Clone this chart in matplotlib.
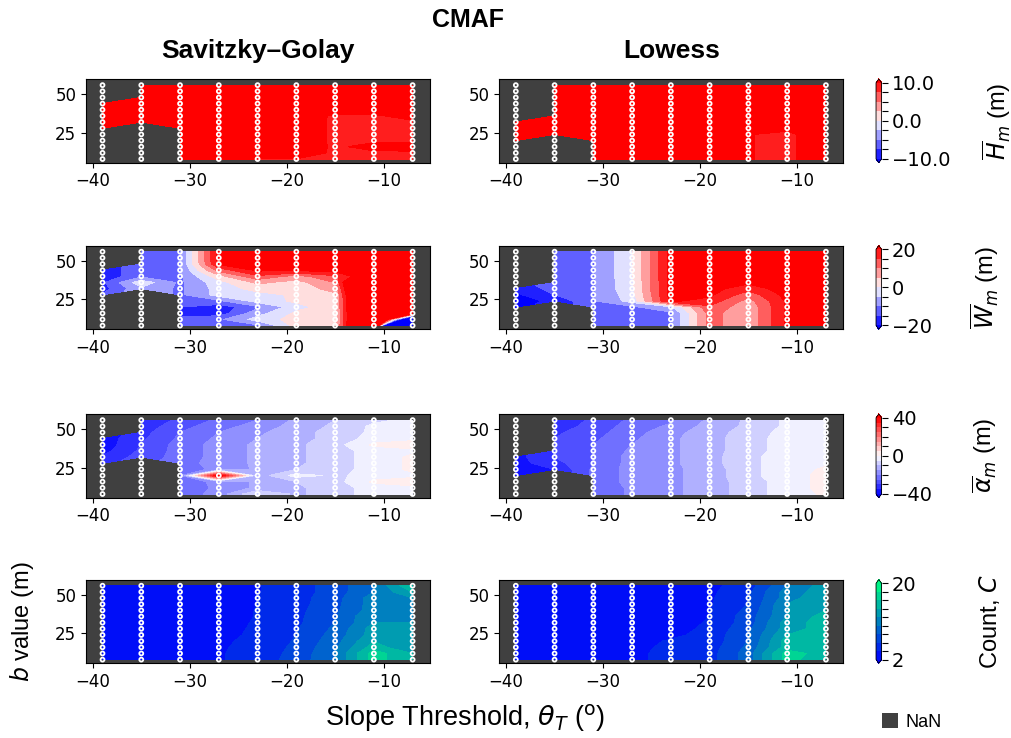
import numpy as np
import matplotlib.pyplot as plt
from matplotlib.patches import Patch

nan = np.nan

# grid of the sweep: slope threshold (deg) and b value (m), top row first
slope = [-39, -35, -31, -27, -23, -19, -15, -11, -7]
b_value = [56, 52, 48, 44, 40, 36, 32, 28, 24, 20, 16, 12, 8]

# mean height H_m (m)
h_sg = [
    [nan, 12, 12, 12, 12, 12, 12, 12, 12],
    [nan, 12, 12, 12, 12, 12, 12, 12, 12],
    [nan, 12, 12, 12, 12, 12, 12, 12, 12],
    [12, 12, 12, 12, 12, 12, 12, 12, 12],
    [12, 12, 12, 12, 12, 12, 12, 12, 12],
    [12, 12, 12, 12, 12, 12, 9.5, 9.6, 11],
    [12, 12, 12, 12, 12, 12, 9.4, 9.5, 9.6],
    [12, nan, 12, 12, 12, 12, 9.4, 9.5, 9.6],
    [nan, nan, 12, 12, 12, 12, 9.4, 9.5, 9.6],
    [nan, nan, 12, 12, 12, 12, 9.4, 9.5, 9.6],
    [nan, nan, 12, 12, 12, 12, 9.5, 11, 11],
    [nan, nan, 12, 12, 12, 12, 9.4, 9.5, 9.6],
    [nan, nan, 12, 12, 9.9, 9.9, 9.4, 9.5, 9.6],
]
h_lowess = [
    [nan, 12, 12, 12, 12, 12, 12, 12, 12],
    [nan, 12, 12, 12, 12, 12, 12, 12, 12],
    [nan, 12, 12, 12, 12, 12, 12, 12, 12],
    [nan, 12, 12, 12, 12, 12, 12, 12, 12],
    [nan, 12, 12, 12, 12, 12, 12, 12, 12],
    [nan, 12, 12, 12, 12, 12, 12, 12, 12],
    [12, 12, 12, 12, 12, 12, 12, 12, 12],
    [12, 12, 12, 12, 12, 12, 12, 11, 12],
    [12, 12, 12, 12, 12, 12, 10.2, 9, 13],
    [12, nan, 12, 12, 12, 12, 10.2, 9, 13],
    [nan, nan, 12, 12, 12, 12, 10.2, 9, 13],
    [nan, nan, 12, 12, 12, 12, 10.2, 9, 13],
    [nan, nan, 12, 12, 12, 12, 10.2, 9, 13],
]

# mean width W_m (m)
w_sg = [
    [nan, -11, -10.5, 22, 24, 25, 25, 28, 28],
    [nan, -11, -10.5, 22, 24, 25, 25, 28, 28],
    [nan, -11, -10.5, 21, 23, 24, 24, 28, 28],
    [-19, -11, -10.5, 12, 21, 21, 22, 28, 28],
    [-19, -11, -11, 3, 14, 8, 14, 28, 28],
    [-16, -2, -11, -2, 6, 3, 10, 60, 28],
    [-17, -6, -11, -3, 2, 2, 7, 60, 28],
    [-15, nan, -11, -3, -2, 1, 4, 60, 28],
    [nan, nan, -12, -11, -3, 1, 3, 60, 28],
    [nan, nan, -15, -18, -11, -2, 3, 60, 28],
    [nan, nan, -18, -18, -7, 1, 2, 60, 25],
    [nan, nan, -12, -11, -3, 2, 2, 60, -60],
    [nan, nan, -11, -11, -11, 2, 3, 60, -300],
]
w_lowess = [
    [nan, -11, -10.5, -0.5, 22, 24, 24, 25, 25],
    [nan, -11, -10.5, -0.5, 22, 24, 24, 25, 25],
    [nan, -11, -10.5, -0.5, 22, 24, 24, 25, 25],
    [nan, -11, -10.5, -0.5, 22, 24, 24, 25, 25],
    [nan, -11, -10.5, -0.5, 22, 24, 23, 25, 25],
    [nan, -11, -10.5, -1, 22, 24, 21, 25, 25],
    [-19, -13, -10.5, -1, 22, 22, 17, 23, 25],
    [-21, -15, -10.5, -2, 22, 21, 12, 22, 25],
    [-22, -19, -10.5, -3, 21, 18, 8, 21, 25],
    [-21, nan, -11, -11, -6, 14, 6, 21, 25],
    [nan, nan, -11, -11, -11, 12, 6, 21, 25],
    [nan, nan, -11, -11, -11, 12, 6, 21, 25],
    [nan, nan, -11, -11, -11, 12, 6, 21, 25],
]

# mean alpha_m (m)
a_sg = [
    [nan, -34, -29, -24, -20, -14, -10, -6, -4],
    [nan, -33, -27, -22, -18, -13, -9, -4, -3],
    [nan, -32, -25, -20, -16, -12, -8, -4, -2],
    [-38, -31, -24, -19, -15, -12, -8, -3, -1],
    [-38, -30, -23, -18, -14, -11, -7, 1, 2],
    [-37, -29, -23, -18, -14, -11, -7, -3, -1],
    [-34, -28, -23, -18, -14, -11, -7, -3, 1],
    [-32, nan, -22, -18, -14, -11, -7, -3, 1],
    [nan, nan, -22, -19, -14, -10, -7, -3, 1],
    [nan, nan, -22, 45, -13, -3, -6, -3, -1],
    [nan, nan, -22, -19, -14, -10, -7, 1, 2],
    [nan, nan, -23, -19, -14, -11, -7, -3, -1],
    [nan, nan, -23, -18, -5, -11, -7, -3, -2],
]
a_lowess = [
    [nan, -34, -29, -24, -21, -14, -9, -4, -3],
    [nan, -33, -28, -23, -19, -13, -9, -4, -3],
    [nan, -31, -27, -22, -17, -12, -8, -3, -2],
    [nan, -30, -26, -21, -16, -12, -7, -3, -2],
    [nan, -30, -25, -20, -16, -12, -7, -3, -2],
    [nan, -30, -25, -19, -16, -12, -7, -3, -2],
    [-37, -30, -25, -18, -16, -12, -6, -3, -1],
    [-37, -32, -25, -18, -16, -12, -6, -3, -1],
    [-37, -35, -24, -18, -16, -13, -6, -3, 1],
    [-37, nan, -24, -18, -16, -13, -6, -3, 2],
    [nan, nan, -24, -18, -16, -13, -7, -3, 2],
    [nan, nan, -24, -19, -16, -13, -7, -3, 2],
    [nan, nan, -24, -19, -16, -13, -7, -3, 1],
]

# count C
c_sg = [
    [2.5, 2.5, 2.5, 3.0, 3.9, 5.0, 7.0, 10, 16],
    [2.5, 2.5, 2.5, 3.0, 3.9, 5.0, 7.0, 10, 14],
    [2.5, 2.5, 2.5, 3.0, 4.0, 5.2, 7.2, 11, 12],
    [2.5, 2.5, 2.5, 3.0, 4.0, 5.2, 7.4, 11, 12],
    [2.5, 2.5, 2.5, 3.0, 4.1, 5.4, 7.6, 11, 12],
    [2.5, 2.5, 2.5, 3.1, 4.1, 5.5, 7.8, 12, 12],
    [2.5, 2.5, 2.5, 3.2, 4.2, 5.6, 8.0, 12, 12],
    [2.5, 2.5, 2.5, 3.3, 4.3, 5.8, 8.4, 13, 13],
    [2.5, 2.5, 2.5, 3.4, 4.4, 6.0, 8.8, 13, 12],
    [2.5, 2.5, 2.5, 3.6, 4.6, 6.2, 9.2, 14, 12],
    [2.5, 2.5, 2.5, 3.7, 4.8, 6.4, 9.6, 15, 12],
    [2.5, 2.5, 2.5, 3.8, 4.9, 6.6, 10, 17, 14],
    [2.5, 2.5, 2.5, 3.8, 5.0, 6.8, 10, 17, 14],
]
c_lowess = [
    [2.5, 2.5, 2.5, 2.6, 2.8, 3.5, 5.0, 10, 13],
    [2.5, 2.5, 2.5, 2.6, 2.8, 3.6, 5.5, 11, 13],
    [2.5, 2.5, 2.5, 2.6, 2.9, 3.7, 6.0, 11, 14],
    [2.5, 2.5, 2.5, 2.6, 2.9, 3.8, 6.0, 12, 14],
    [2.5, 2.5, 2.5, 2.6, 3.0, 3.9, 6.5, 12, 14],
    [2.5, 2.5, 2.5, 2.7, 3.0, 4.0, 7.0, 12, 15],
    [2.5, 2.5, 2.5, 2.7, 3.1, 4.2, 7.0, 13, 15],
    [2.5, 2.5, 2.5, 2.8, 3.3, 4.4, 7.5, 13, 15],
    [2.5, 2.5, 2.5, 3.0, 3.6, 4.6, 8.0, 14, 15],
    [2.5, 2.5, 2.5, 3.3, 4.2, 4.8, 8.0, 15, 15],
    [2.5, 2.5, 2.5, 3.6, 4.3, 5.0, 8.5, 15, 15],
    [2.5, 2.5, 2.5, 3.7, 4.4, 5.2, 9.0, 17, 15],
    [2.5, 2.5, 2.5, 3.7, 4.4, 5.2, 9.0, 17, 14],
]

methods = ["Savitzky\u2013Golay", "Lowess"]
rows = [
    dict(data=[h_sg, h_lowess], levels=np.linspace(-10, 10, 9), cmap="bwr",
         ticks=np.linspace(-10, 10, 9), labels={-10: "\u221210.0", 0: "0.0", 10: "10.0"},
         cblabel=r"$\overline{H}_m$ (m)", label_x=980),
    dict(data=[w_sg, w_lowess], levels=np.linspace(-20, 20, 9), cmap="bwr",
         ticks=np.linspace(-20, 20, 9), labels={-20: "\u221220", 0: "0", 20: "20"},
         cblabel=r"$\overline{W}_m$ (m)", label_x=968),
    dict(data=[a_sg, a_lowess], levels=np.linspace(-40, 40, 17), cmap="bwr",
         ticks=np.linspace(-40, 40, 9), labels={-40: "\u221240", 0: "0", 40: "40"},
         cblabel=r"$\overline{\alpha}_m$ (m)", label_x=970),
    dict(data=[c_sg, c_lowess], levels=np.linspace(2, 20, 10), cmap="winter",
         ticks=np.linspace(2, 20, 10), labels={2: "2", 20: "20"},
         cblabel="Count, $C$", label_x=977),
]

LABEL_FONT = "Liberation Sans"
NAN_COLOR = "#404040"
FIG_W, FIG_H = 1011, 738

fig = plt.figure(figsize=(FIG_W / 100, FIG_H / 100), dpi=100)

col_left = [0.0851, 0.4939]
row_bottom = [0.7795, 0.5538, 0.3256, 0.1012]
ax_w, ax_h = 0.3403, 0.1135

X, Y = np.meshgrid(slope, b_value)

for r, row in enumerate(rows):
    for c in range(2):
        ax = fig.add_axes([col_left[c], row_bottom[r], ax_w, ax_h])
        ax.set_facecolor(NAN_COLOR)
        z = np.array(row["data"][c], dtype=float)
        cs = ax.contourf(slope, b_value, z, levels=row["levels"], cmap=row["cmap"], extend="both")
        ax.scatter(X, Y, s=8, facecolors="none", edgecolors="white", linewidths=1.3, zorder=3)
        ax.set_xlim(-40.7, -5.2)
        ax.set_ylim(5.6, 60)
        ax.set_xticks([-40, -30, -20, -10])
        ax.set_yticks([25, 50])
        ax.tick_params(labelsize=12)
        if r == 0:
            ax.set_title(methods[c], fontsize=19, fontweight="bold", family=LABEL_FONT, pad=15)

    cax = fig.add_axes([0.8665, row_bottom[r], 0.0055, ax_h])
    cb = fig.colorbar(cs, cax=cax)
    cb.set_ticks(row["ticks"])
    cb.set_ticklabels([row["labels"].get(int(round(t)), "") if abs(t - round(t)) < 1e-9 else ""
                       for t in row["ticks"]])
    cb.ax.tick_params(labelsize=14, length=4)
    cb.outline.set_linewidth(0.6)
    fig.text(row["label_x"] / FIG_W, row_bottom[r] + ax_h / 2, row["cblabel"], rotation=90,
             ha="left", va="center", fontsize=17, family=LABEL_FONT)

fig.text(0.463, 0.973, "CMAF", ha="center", va="center", fontsize=18, fontweight="bold", family=LABEL_FONT)
fig.text(0.46, 0.027, r"Slope Threshold, $\theta_T$ ($^{\rm o}$)", ha="center", va="center",
         fontsize=19.5, family=LABEL_FONT)
fig.text(0.022, 0.157, "$b$ value (m)", ha="center", va="center", rotation=90,
         fontsize=17, family=LABEL_FONT)

fig.legend(handles=[Patch(facecolor=NAN_COLOR, label="NaN")], loc="center",
           bbox_to_anchor=(0.902, 0.022), frameon=False,
           handlelength=0.9, handleheight=0.9, handletextpad=0.4,
           prop={"family": LABEL_FONT, "size": 13})

fig.savefig("out.png", dpi=100)
